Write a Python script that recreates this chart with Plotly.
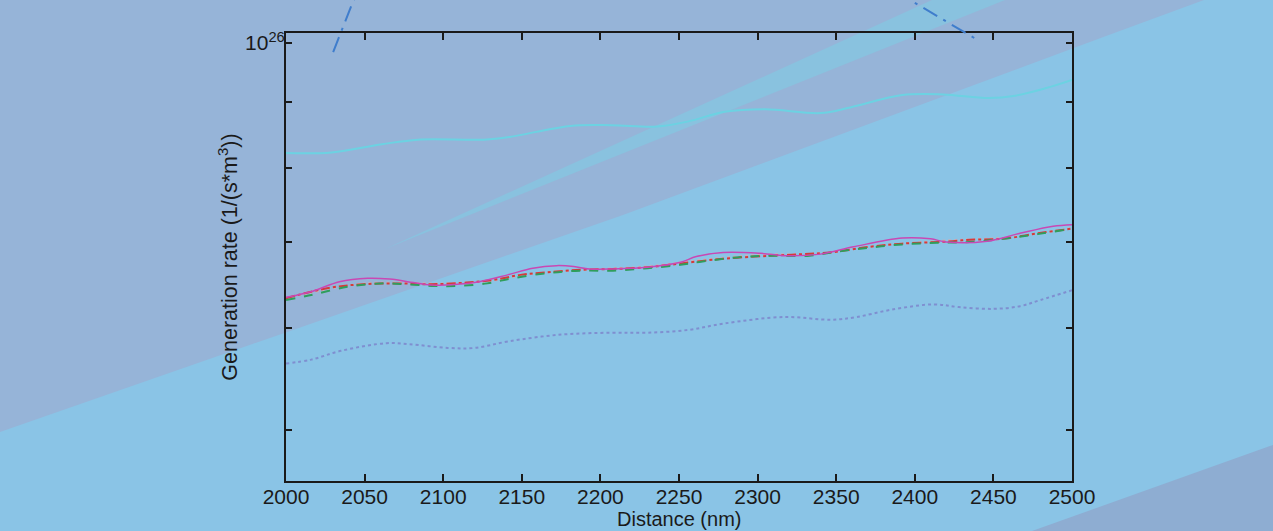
import plotly.graph_objects as go

# ---------------- data ----------------
cyan_x = [2000, 2029, 2061, 2084, 2126, 2142, 2181, 2207, 2236, 2256, 2279, 2305, 2340, 2359, 2392, 2418, 2447, 2464, 2483, 2500]
cyan_y = [8.21e25, 8.22e25, 8.34e25, 8.41e25, 8.41e25, 8.45e25, 8.62e25, 8.63e25, 8.61e25, 8.69e25,
          8.84e25, 8.88e25, 8.82e25, 8.91e25, 9.11e25, 9.12e25, 9.06e25, 9.10e25, 9.22e25, 9.36e25]

magenta_x = [2000, 2017, 2034, 2052, 2066, 2081, 2092, 2109, 2123, 2141, 2157, 2172, 2183, 2193, 2208,
             2230, 2251, 2261, 2278, 2302, 2319, 2340, 2361, 2392, 2410, 2420, 2446, 2467, 2488, 2500]
magenta_y = [6.34e25, 6.41e25, 6.52e25, 6.56e25, 6.55e25, 6.51e25, 6.48e25, 6.49e25, 6.52e25, 6.60e25,
             6.68e25, 6.71e25, 6.70e25, 6.67e25, 6.67e25, 6.69e25, 6.75e25, 6.82e25, 6.87e25, 6.86e25,
             6.83e25, 6.85e25, 6.94e25, 7.05e25, 7.04e25, 7.00e25, 7.01e25, 7.11e25, 7.20e25, 7.22e25]

green_x = [2000, 2017, 2039, 2060, 2077, 2094, 2109, 2128, 2144, 2166, 2187, 2208, 2230, 2251, 2265,
           2287, 2308, 2333, 2350, 2371, 2392, 2414, 2435, 2456, 2478, 2500]
green_y = [6.31e25, 6.37e25, 6.46e25, 6.50e25, 6.49e25, 6.47e25, 6.47e25, 6.50e25, 6.56e25, 6.62e25,
           6.65e25, 6.65e25, 6.68e25, 6.72e25, 6.76e25, 6.81e25, 6.83e25, 6.83e25, 6.88e25, 6.93e25,
           6.97e25, 6.99e25, 7.00e25, 7.04e25, 7.10e25, 7.17e25]

red_x = [2000, 2028, 2049, 2071, 2092, 2115, 2132, 2149, 2166, 2187, 2208, 2230, 2244, 2276, 2308,
         2329, 2346, 2371, 2392, 2424, 2435, 2456, 2478, 2500]
red_y = [6.33e25, 6.45e25, 6.49e25, 6.50e25, 6.49e25, 6.51e25, 6.54e25, 6.60e25, 6.63e25, 6.66e25,
         6.67e25, 6.69e25, 6.72e25, 6.79e25, 6.83e25, 6.85e25, 6.87e25, 6.94e25, 6.98e25, 7.01e25,
         7.03e25, 7.04e25, 7.11e25, 7.17e25]

gray_x = [2000, 2050, 2100, 2130, 2160, 2200, 2230, 2260, 2300, 2340, 2380, 2420, 2460, 2500]
gray_y = [6.33e25, 6.50e25, 6.50e25, 6.53e25, 6.62e25, 6.67e25, 6.70e25, 6.77e25, 6.84e25, 6.86e25,
          6.96e25, 7.02e25, 7.06e25, 7.18e25]

blue_x = [2000, 2016, 2035, 2064, 2078, 2103, 2120, 2142, 2175, 2207, 2230, 2256, 2279, 2317, 2347,
          2363, 2385, 2412, 2428, 2450, 2467, 2480, 2500]
blue_y = [5.63e25, 5.67e25, 5.76e25, 5.84e25, 5.83e25, 5.79e25, 5.79e25, 5.86e25, 5.93e25, 5.95e25,
          5.95e25, 5.98e25, 6.05e25, 6.12e25, 6.09e25, 6.12e25, 6.20e25, 6.26e25, 6.23e25, 6.21e25,
          6.24e25, 6.31e25, 6.42e25]

# curve that runs out of the top of the axes (unclipped)
arc_x = [2030, 2043, 2080, 2150, 2250, 2330, 2397, 2439]
arc_y = [9.84e25, 1.080e26, 1.25e26, 1.38e26, 1.40e26, 1.25e26, 1.080e26, 1.007e26]

x_ticks = [2000, 2050, 2100, 2150, 2200, 2250, 2300, 2350, 2400, 2450, 2500]
y_major_ticks = [1e26]
y_major_text = ["10<sup>26</sup>"]
y_minor_ticks = [5e25, 6e25, 7e25, 8e25, 9e25]

x_title = "Distance (nm)"
y_title = "Generation rate (1/(s*m<sup>3</sup>))"

# ---------------- geometry ----------------
W, H = 1273, 531
ML, MR, MT, MB = 286, 201, 0, 50
PW, PH = W - ML - MR, H - MT - MB
AX_TOP_PX = 33
dom_top = (PH - AX_TOP_PX) / PH
y_lo, y_hi = 25.6591, 26.0078
y2_hi = y_lo + (y_hi - y_lo) / dom_top

def fx(p):
    return (p - ML) / PW

def fy(p):
    return (H - MB - p) / PH

def path(points):
    return "M " + " L ".join(f"{fx(a):.5f},{fy(b):.5f}" for a, b in points) + " Z"

FONT = "Liberation Sans, Arial, sans-serif"
INK = "#1a1a1a"

fig = go.Figure()

line_kw = dict(mode="lines", hoverinfo="skip", showlegend=False)
fig.add_trace(go.Scatter(x=cyan_x, y=cyan_y, line=dict(color="#6cd2e2", width=2, shape="spline"), **line_kw))
fig.add_trace(go.Scatter(x=blue_x, y=blue_y, line=dict(color="#7f8fd0", width=2, dash="dot", shape="spline"), **line_kw))
fig.add_trace(go.Scatter(x=gray_x, y=gray_y, line=dict(color="#c8aebb", width=2, dash="dot", shape="spline"), **line_kw))
fig.add_trace(go.Scatter(x=red_x, y=red_y, line=dict(color="#d53a3a", width=2, dash="dashdot", shape="spline"), **line_kw))
fig.add_trace(go.Scatter(x=green_x, y=green_y, line=dict(color="#2f9e5c", width=2, dash="dash", shape="spline"), **line_kw))
fig.add_trace(go.Scatter(x=magenta_x, y=magenta_y, line=dict(color="#c948b4", width=1.5, shape="spline"), **line_kw))
fig.add_trace(go.Scatter(x=arc_x, y=arc_y, xaxis="x2", yaxis="y2",
                         line=dict(color="#3f7dcc", width=2, dash="16px,7px,3px,7px"), **line_kw))

shapes = [
    # big lighter region (lower right)
    dict(type="path", xref="paper", yref="paper", layer="below", line=dict(width=0),
         fillcolor="#8ac4e6",
         path=path([(0, 432), (288, 331.7), (623, 215), (1100, 38.3), (1204, 0), (W, 0), (W, H), (0, H)])),
    # thin wedge
    dict(type="path", xref="paper", yref="paper", layer="below", line=dict(width=0),
         fillcolor="#89c2df",
         path=path([(385, 249), (932, 0), (1005, 0)])),
    # bottom-right darker triangle
    dict(type="path", xref="paper", yref="paper", layer="below", line=dict(width=0),
         fillcolor="#8eadd2",
         path=path([(1032, H), (W, 445), (W, H)])),
]

annotations = [
    dict(text=x_title, xref="paper", yref="paper", x=0.5, y=fy(518.5), xanchor="center", yanchor="middle",
         showarrow=False, font=dict(family=FONT, size=20, color=INK)),
]

axis_common = dict(showline=True, linecolor=INK, linewidth=2, mirror="allticks",
                   ticks="inside", tickcolor=INK, tickwidth=2,
                   showgrid=False, zeroline=False, automargin=False,
                   tickfont=dict(family=FONT, size=21, color=INK))

fig.update_layout(
    width=W, height=H,
    margin=dict(l=ML, r=MR, t=MT, b=MB, pad=0, autoexpand=False),
    paper_bgcolor="#96b4d8",
    plot_bgcolor="rgba(0,0,0,0)",
    shapes=shapes,
    annotations=annotations,
    xaxis=dict(range=[2000, 2500], domain=[0, 1], tickmode="array", tickvals=x_ticks,
               ticklen=7, ticklabelstandoff=-4,
               anchor="y", **axis_common),
    yaxis=dict(type="log", range=[y_lo, y_hi], domain=[0, dom_top], tickmode="array",
               tickvals=y_major_ticks, ticktext=y_major_text, ticklen=6, ticklabelstandoff=-5,
               minor=dict(tickmode="array", tickvals=y_minor_ticks, ticks="inside",
                          ticklen=6, tickwidth=2, tickcolor=INK, showgrid=False),
               title=dict(text=y_title, font=dict(family=FONT, size=21.5, color=INK), standoff=2),
               anchor="x", **axis_common),
    xaxis2=dict(range=[2000, 2500], domain=[0, 1], visible=False, anchor="y2"),
    yaxis2=dict(type="log", range=[y_lo, y2_hi], domain=[0, 1], visible=False, anchor="x2"),
)

fig.write_html("out.html")
